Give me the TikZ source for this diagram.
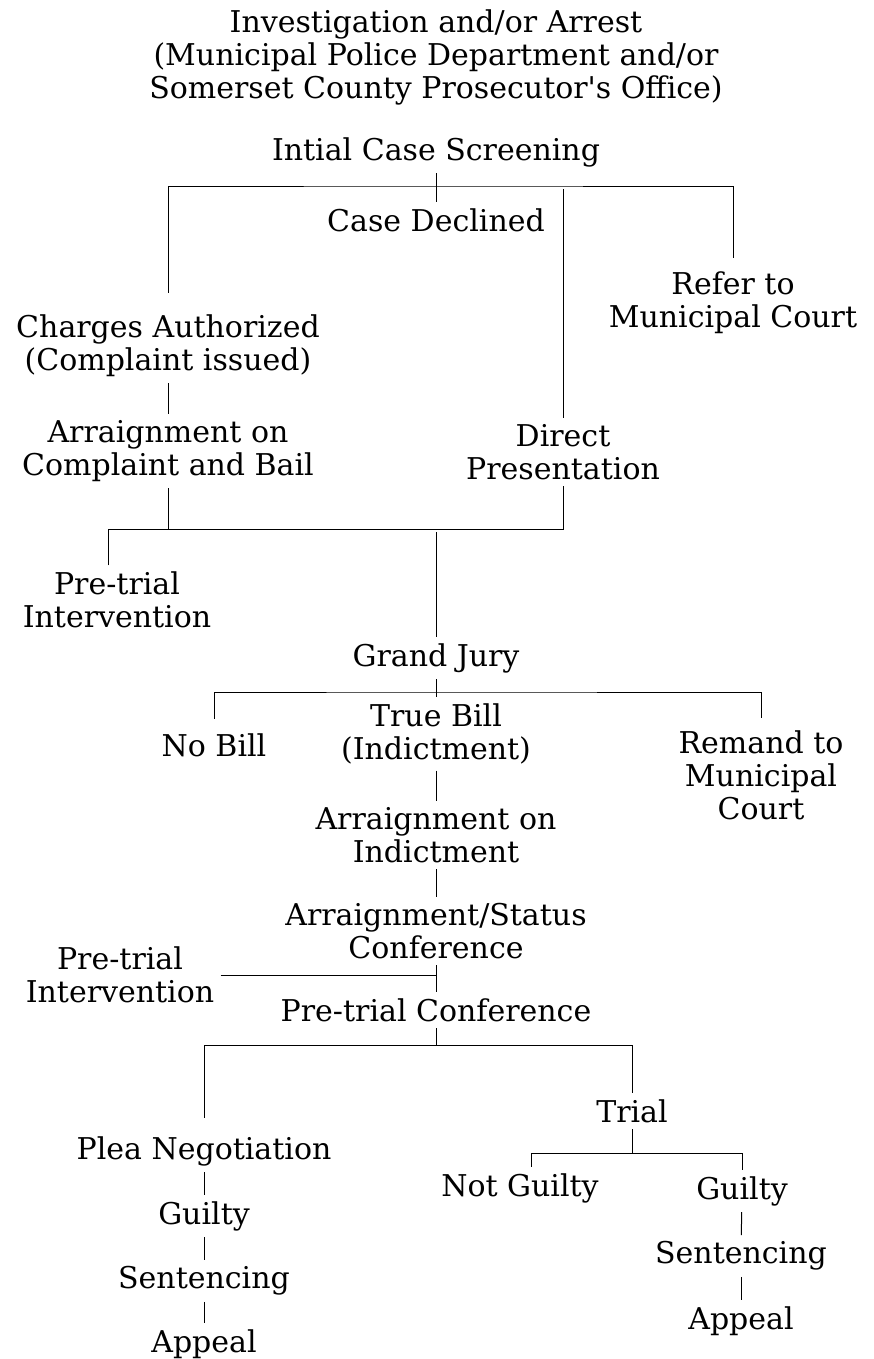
\documentclass[tikz,border=0pt]{standalone}
\usepackage{fontspec}
\setmainfont{DejaVu Serif}[Ligatures=TeXOff]
\usetikzlibrary{calc}

\tikzset{
  stage/.style={align=center,inner sep=3pt,font=\fontsize{15}{16.5}\selectfont},
  link/.style={line width=0.5pt}
}

\begin{document}
\begin{tikzpicture}[x=0.5pt,y=-0.5pt]
\useasboundingbox (0,0) rectangle (873,1359);
% stages of the case
\node[stage] (arrest) at (436,57) {Investigation and/or Arrest\\(Municipal Police Department and/or\\Somerset County Prosecutor's Office)};
\node[stage] (screen) at (436,152) {Intial Case Screening};
\node[stage] (declined) at (436,220) {Case Declined};
\node[stage] (refer) at (733,303) {Refer to\\Municipal Court};
\node[stage] (charges) at (168,346) {Charges Authorized\\(Complaint issued)};
\node[stage] (arrcomp) at (168,451) {Arraignment on\\Complaint and Bail};
\node[stage] (direct) at (563,452) {Direct\\Presentation};
\node[stage] (ptia) at (117,600) {Pre-trial\\Intervention};
\node[stage] (jury) at (436,658) {Grand Jury};
\node[stage] (nobill) at (214,745) {No Bill};
\node[stage] (truebill) at (436,734) {True Bill\\(Indictment)};
\node[stage] (remand) at (761,775) {Remand to\\Municipal\\Court};
\node[stage] (arrind) at (436,835) {Arraignment on\\Indictment};
\node[stage] (status) at (436,931) {Arraignment/Status\\Conference};
\node[stage] (ptib) at (120,975) {Pre-trial\\Intervention};
\node[stage] (ptconf) at (436,1010) {Pre-trial Conference};
\node[stage] (plea) at (204,1151) {Plea Negotiation};
\node[stage] (trial) at (632,1111) {Trial};
\node[stage] (notguilty) at (520,1188) {Not Guilty};
\node[stage] (guiltyb) at (742,1191) {Guilty};
\node[stage] (sentb) at (741,1256) {Sentencing};
\node[stage] (appealb) at (741,1321) {Appeal};
\node[stage] (guiltya) at (204,1216) {Guilty};
\node[stage] (senta) at (204,1281) {Sentencing};
\node[stage] (appeala) at (204,1344) {Appeal};

% junctions
\coordinate (busa) at (436,186);
\coordinate (busb) at (108,529);
\coordinate (busc) at (436,692);
\coordinate (busd) at (436,1045);
\coordinate (buse) at (632,1153);

% screening
\draw[link] (screen) -- (declined);
\draw[link,shorten <=8pt,shorten >=4pt] (charges) |- (busa) -| (refer);
\draw[link,shorten >=1.5pt] (direct) -- (direct |- busa);
\draw[link] (charges) -- (arrcomp);
% to the grand jury
\draw[link] (busb |- ptia.north) -- (busb) -- (busb -| direct) -- (direct);
\draw[link] (arrcomp) -- (arrcomp |- busb);
\draw[link,shorten >=1.5pt] (jury) -- (jury |- busb);
\draw[link] (jury) -- (truebill);
\draw[link,shorten <=4pt,shorten >=3pt] (nobill) |- (busc) -| (remand);
% after indictment
\draw[link] (truebill) -- (arrind);
\draw[link] (arrind) -- (status);
\draw[link] (status) -- (ptconf);
\draw[link] (ptib.east) -- (ptib.east -| status);
\draw[link] (ptconf) -- (busd);
\draw[link,shorten <=6pt] (plea) |- (busd) -| (trial);
\draw[link] (trial) -- (buse);
\draw[link] ([xshift=5.5pt]notguilty.north) |- (buse) -| (guiltyb);
\draw[link] (guiltyb) -- (sentb);
\draw[link] (sentb) -- (appealb);
\draw[link] (plea) -- (guiltya);
\draw[link] (guiltya) -- (senta);
\draw[link] (senta) -- (appeala);
\end{tikzpicture}
\end{document}
